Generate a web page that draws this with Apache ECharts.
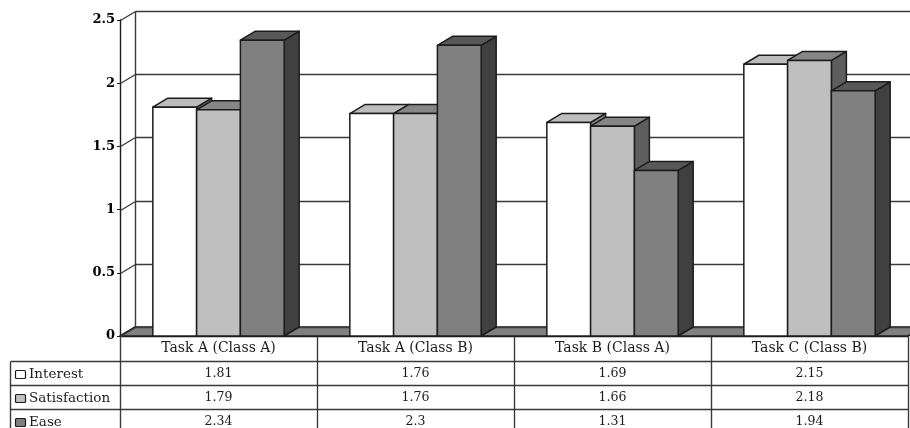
<!DOCTYPE html>
<html>
<head>
<meta charset="utf-8">
<style>html,body{margin:0;padding:0;background:#fff}#chart{width:910px;height:428px}</style>
<script src="https://cdn.jsdelivr.net/npm/echarts@6/dist/echarts.min.js"></script>
</head>
<body>
<div id="chart"></div>
<script>
const categories = ['Task A (Class A)', 'Task A (Class B)', 'Task B (Class A)', 'Task C (Class B)'];
const interest = [1.81, 1.76, 1.69, 2.15];
const satisfaction = [1.79, 1.76, 1.66, 2.18];
const ease = [2.34, 2.3, 1.31, 1.94];
const seriesNames = ['Interest', 'Satisfaction', 'Ease'];
const yTicks = [0, 0.5, 1, 1.5, 2, 2.5];

// Shades per series: front, top and side faces of a box
const faces = [
  { front: '#ffffff', top: '#bdbdbd', side: '#808080' },
  { front: '#bfbfbf', top: '#868686', side: '#5e5e5e' },
  { front: '#808080', top: '#585858', side: '#404040' }
];
const ink = '#1c1c1c';
const rule = '#3a3a3a';
const depthX = 15, depthY = 9;
const rowTop = 361, rowH = 24, tableLeft = 10;
const cellFont = '12.5px "DejaVu Serif"';
const nameFont = '13.5px "DejaVu Serif"';

const seg = (x1, y1, x2, y2) => ({
  type: 'line', silent: true,
  shape: { x1: Math.round(x1) + 0.5, y1: Math.round(y1) + 0.5, x2: Math.round(x2) + 0.5, y2: Math.round(y2) + 0.5 },
  style: { stroke: rule, lineWidth: 1.4 }
});
const poly = (points, fill) => ({
  type: 'polygon', silent: true, shape: { points },
  style: { fill, stroke: ink, lineWidth: 1.5, lineJoin: 'round' }
});
const label = (text, x, y, align, font) => ({
  type: 'text', silent: true,
  style: { text, x, y, fill: ink, font, align, verticalAlign: 'middle' }
});

// Back wall, floor and the receding tick lines
function renderWall(params, api) {
  const tick = api.value(0);
  const base = api.coord([0, tick]);
  const left = api.coord([0, 0])[0] - api.size([1, 0])[0] / 2;
  const right = left + api.size([1, 0])[0] * categories.length;
  const children = [];
  if (tick === 0) {
    const y0 = base[1];
    children.push(poly([[left, y0], [left + depthX, y0 - depthY], [right + depthX, y0 - depthY], [right, y0]], '#808080'));
    const yTop = api.coord([0, yTicks[yTicks.length - 1]])[1];
    children.push(seg(left + depthX, yTop - depthY, left + depthX, y0 - depthY));
  }
  children.push(seg(left, base[1], left + depthX, base[1] - depthY));
  children.push(seg(left + depthX, base[1] - depthY, right + depthX, base[1] - depthY));
  return { type: 'group', children };
}

// One box of the clustered column group
function renderBox(seriesPos) {
  return function (params, api) {
    const band = api.size([1, 0])[0];
    const w = band / 4.5;
    const center = api.coord([api.value(0), 0]);
    const top = api.coord([api.value(0), api.value(1)])[1];
    const x0 = center[0] - 1.5 * w + seriesPos * w;
    const x1 = x0 + w;
    const yb = center[1];
    const f = faces[seriesPos];
    return {
      type: 'group',
      children: [
        poly([[x1, yb], [x1 + depthX, yb - depthY], [x1 + depthX, top - depthY], [x1, top]], f.side),
        poly([[x0, top], [x0 + depthX, top - depthY], [x1 + depthX, top - depthY], [x1, top]], f.top),
        poly([[x0, yb], [x0, top], [x1, top], [x1, yb]], f.front)
      ]
    };
  };
}

// Ruling of the data table under the plot
function renderRules(params, api) {
  const band = api.size([1, 0])[0];
  const left = api.coord([0, 0])[0] - band / 2;
  const y0 = api.coord([0, 0])[1];
  const right = left + band * categories.length;
  const bottom = 428;
  const children = [seg(tableLeft, rowTop, right, rowTop)];
  seriesNames.forEach((n, r) => {
    const y = rowTop + rowH * (r + 1);
    if (r < seriesNames.length - 1) children.push(seg(tableLeft, y, right, y));
  });
  children.push(seg(tableLeft, rowTop, tableLeft, bottom));
  categories.forEach((c, i) => children.push(seg(left + band * i, y0, left + band * i, bottom)));
  children.push(seg(right, y0, right, bottom));
  seriesNames.forEach((n, r) => {
    const cy = rowTop + rowH * r + 13;
    children.push({
      type: 'rect', silent: true,
      shape: { x: 15.5, y: Math.round(cy - 4) + 0.5, width: 10, height: 8, r: 1 },
      style: { fill: faces[r].front, stroke: ink, lineWidth: 1.2 }
    });
    children.push(label(n, 29, cy, 'left', nameFont));
  });
  return { type: 'group', children };
}

// A single value cell of the data table
function renderCell(params, api) {
  const x = api.coord([api.value(0), 0])[0];
  const r = api.value(1);
  return label(String(api.value(2)), x, rowTop + rowH * r + 13, 'center', cellFont);
}

const cells = [];
[interest, satisfaction, ease].forEach((row, r) => row.forEach((v, c) => cells.push([c, r, v])));

const boxSeries = [interest, satisfaction, ease].map((values, pos) => ({
  type: 'custom', name: seriesNames[pos], z: 3 + pos,
  renderItem: renderBox(pos),
  encode: { x: 0, y: 1 },
  data: values.map((v, i) => [i, v])
}));

const chart = echarts.init(document.getElementById('chart'), null, { renderer: 'canvas' });
chart.setOption({
  animation: false,
  backgroundColor: '#ffffff',
  grid: { left: 120, right: 2, top: 20, bottom: 92, containLabel: false },
  xAxis: {
    type: 'category', data: categories,
    axisLine: { show: true, lineStyle: { color: ink, width: 1.4 } },
    axisTick: { show: false },
    axisLabel: { color: ink, fontFamily: 'DejaVu Serif', fontSize: 14, margin: 5, interval: 0 },
    splitLine: { show: false }
  },
  yAxis: {
    type: 'value', min: 0, max: 2.5, interval: 0.5,
    axisLine: { show: true, onZero: false, lineStyle: { color: ink, width: 1.4 } },
    axisTick: { show: true, length: 3, lineStyle: { color: ink, width: 1 } },
    axisLabel: { color: '#000', fontFamily: 'DejaVu Serif', fontWeight: 'bold', fontSize: 13, margin: 5 },
    splitLine: { show: false }
  },
  series: [
    { type: 'custom', z: 1, renderItem: renderWall, encode: { y: 0 }, data: yTicks.map(t => [t]) },
    { type: 'custom', z: 2, renderItem: renderRules, data: [[0]] },
    ...boxSeries,
    { type: 'custom', z: 7, renderItem: renderCell, data: cells }
  ]
});
</script>
</body>
</html>
